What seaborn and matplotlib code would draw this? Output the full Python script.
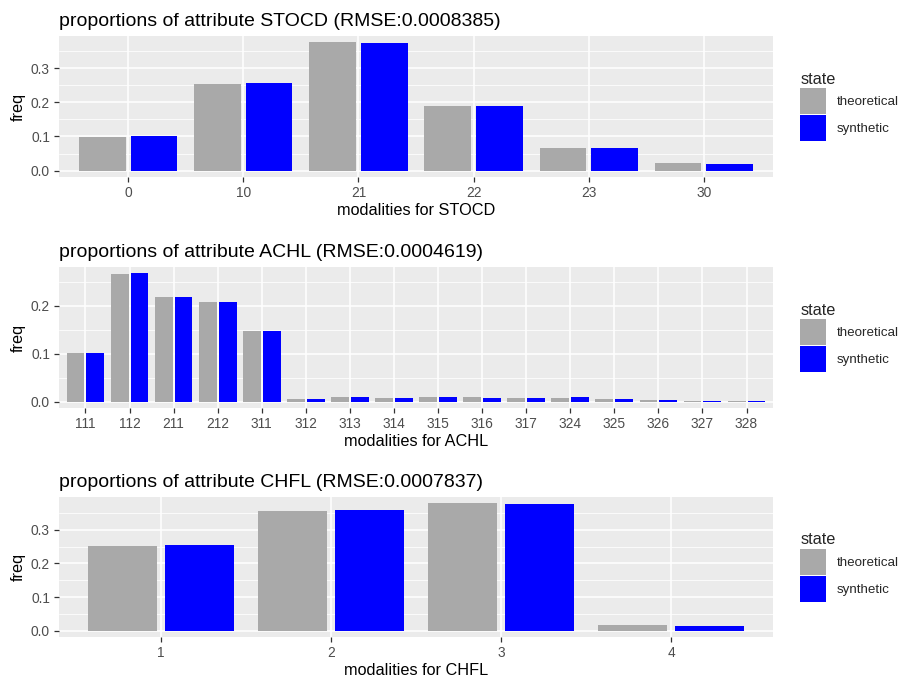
import seaborn as sns
import matplotlib.pyplot as plt
import pandas as pd
from matplotlib.patches import Patch
from matplotlib.ticker import MultipleLocator, FormatStrFormatter

# data
stocd_mod = ['0', '10', '21', '22', '23', '30']
stocd_theo = [0.099, 0.253, 0.376, 0.190, 0.067, 0.021]
stocd_syn = [0.100, 0.256, 0.373, 0.190, 0.067, 0.020]

achl_mod = ['111', '112', '211', '212', '311', '312', '313', '314', '315',
            '316', '317', '324', '325', '326', '327', '328']
achl_theo = [0.102, 0.265, 0.217, 0.208, 0.146, 0.006, 0.010, 0.008, 0.010,
             0.010, 0.008, 0.008, 0.006, 0.004, 0.002, 0.002]
achl_syn = [0.102, 0.267, 0.217, 0.208, 0.146, 0.006, 0.010, 0.008, 0.010,
            0.008, 0.008, 0.009, 0.006, 0.004, 0.002, 0.002]

chfl_mod = ['1', '2', '3', '4']
chfl_theo = [0.251, 0.355, 0.379, 0.016]
chfl_syn = [0.254, 0.358, 0.378, 0.013]

panels = [
    ('STOCD', '0.0008385', stocd_mod, stocd_theo, stocd_syn),
    ('ACHL', '0.0004619', achl_mod, achl_theo, achl_syn),
    ('CHFL', '0.0007837', chfl_mod, chfl_theo, chfl_syn),
]
states = ['theoretical', 'synthetic']
colors = {'theoretical': '#A9A9A9', 'synthetic': '#0000FF'}

sns.set_theme(style='darkgrid', rc={
    'axes.facecolor': '#EBEBEB',
    'grid.color': 'white',
    'axes.edgecolor': 'white',
})
plt.rcParams['font.family'] = ['Liberation Sans', 'DejaVu Sans']

W, H = 902, 682
fig = plt.figure(figsize=(W / 100, H / 100), dpi=100)
fig.patch.set_facecolor('white')

# panel boxes in pixels: (top, bottom)
boxes = [(36, 177), (267, 408), (497, 637)]
left, right = 59, 773

for (name, rmse, mods, theo, syn), (top, bot) in zip(panels, boxes):
    ax = fig.add_axes([left / W, 1 - bot / H, (right - left) / W, (bot - top) / H])
    df = pd.DataFrame({
        'modality': mods * 2,
        'freq': theo + syn,
        'state': ['theoretical'] * len(mods) + ['synthetic'] * len(mods),
    })
    sns.barplot(data=df, x='modality', y='freq', hue='state', order=mods,
                hue_order=states, palette=colors, saturation=1, width=0.9,
                gap=0.1, errorbar=None, legend=False, linewidth=0, ax=ax)
    n = len(mods)
    ax.set_xlim(-0.6, n - 1 + 0.6)
    ymax = max(theo + syn)
    ax.set_ylim(-0.05 * ymax, 1.05 * ymax)
    ax.yaxis.set_major_locator(MultipleLocator(0.1))
    ax.yaxis.set_minor_locator(MultipleLocator(0.05))
    ax.yaxis.set_major_formatter(FormatStrFormatter('%.1f'))
    ax.grid(which='major', color='white', lw=1.1)
    ax.grid(which='minor', axis='y', color='white', lw=0.55)
    ax.set_axisbelow(True)
    for s in ax.spines.values():
        s.set_visible(False)
    ax.tick_params(which='major', length=3.5, width=0.9, color='#333333',
                   labelsize=9.9, labelcolor='#4D4D4D', pad=3, bottom=True, left=True)
    ax.tick_params(which='minor', length=0)
    ax.set_title(f'proportions of attribute {name} (RMSE:{rmse})', loc='left',
                 fontsize=14, color='black', pad=7)
    ax.set_xlabel(f'modalities for {name}', fontsize=11.7, color='black', labelpad=2)
    ax.set_ylabel('freq', fontsize=11.7, color='black', labelpad=4)

    handles = [Patch(facecolor=colors[s], edgecolor='none', label=s) for s in states]
    leg = ax.legend(handles=handles, title='state', loc='center left',
                    bbox_to_anchor=(1.031, 0.5), frameon=False, fontsize=9.6,
                    title_fontsize=11.7, handlelength=1.95, handleheight=2.6,
                    labelspacing=0.1, handletextpad=0.75, borderaxespad=0)
    leg._legend_box.align = 'left'

fig.savefig('out.png', dpi=100, facecolor='white')
